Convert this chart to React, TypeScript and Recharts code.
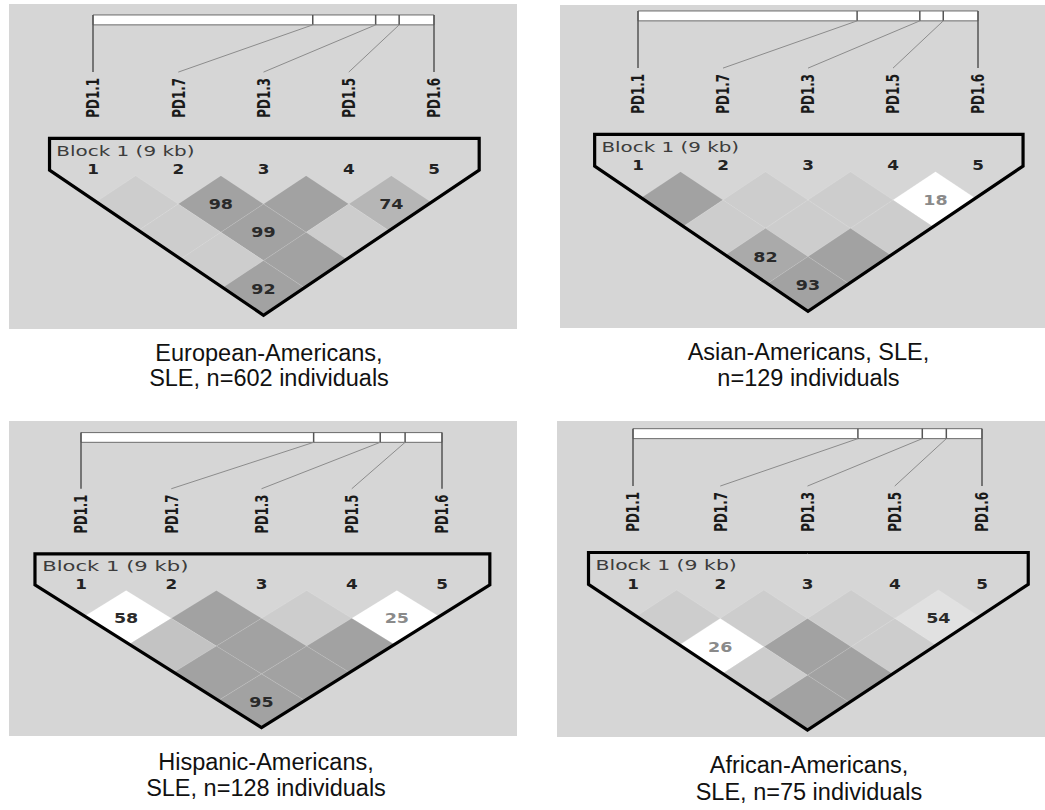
import React from 'react';
import { ScatterChart, Scatter, XAxis, YAxis, ReferenceArea, ReferenceLine } from 'recharts';

// ---------------- data ----------------
const markerNames = ['PD1.1', 'PD1.7', 'PD1.3', 'PD1.5', 'PD1.6'];
const markerPositionsKb = [0, 5.8, 7.46, 8.08, 9.0];
const blockSpanKb = 9;
const blockTitle = 'Block 1 (9 kb)';
const markerNumbers = ['1', '2', '3', '4', '5'];
const markerPairs: [number, number][] = [
  [1, 2], [2, 3], [3, 4], [4, 5],
  [1, 3], [2, 4], [3, 5],
  [1, 4], [2, 5],
  [1, 5],
];

// D' (x100) per pair (100 = not printed) and LD class per pair
const europeanDPrime = [100, 98, 100, 74, 100, 99, 100, 100, 100, 92];
const europeanLD = ['weak', 'strong', 'strong', 'mid', 'weak', 'strong', 'weak', 'weak', 'strong', 'strong'];
const asianDPrime = [100, 100, 100, 18, 100, 100, 100, 82, 100, 93];
const asianLD = ['strong', 'weak', 'weak', 'none', 'weak', 'weak', 'weak', 'high', 'strong', 'strong'];
const hispanicDPrime = [58, 100, 100, 25, 100, 100, 100, 100, 100, 95];
const hispanicLD = ['none', 'strong', 'weak', 'none', 'midLight', 'strong', 'strong', 'strong', 'strong', 'strong'];
const africanDPrime = [100, 100, 100, 54, 26, 100, 100, 100, 100, 100];
const africanLD = ['weak', 'weak', 'weak', 'faint', 'none', 'strong', 'weak', 'weak', 'strong', 'strong'];

const europeanCaption = ['European-Americans,', 'SLE, n=602 individuals'];
const asianCaption = ['Asian-Americans, SLE,', 'n=129 individuals'];
const hispanicCaption = ['Hispanic-Americans,', 'SLE, n=128 individuals'];
const africanCaption = ['African-Americans,', 'SLE, n=75 individuals'];

// ---------------- styles / layout ----------------
const ldColors: Record<string, string> = {
  strong: '#a2a2a2',
  high: '#aaaaaa',
  mid: '#b6b6b6',
  midLight: '#c3c3c3',
  weak: '#cdcdcd',
  faint: '#e1e1e1',
  none: '#ffffff',
};
const lowTextGray = '#8a8a8a';
const panelBg = '#d6d6d6';
const FONT = '"DejaVu Sans", Verdana, sans-serif';

// geometry in chart units (x: marker index, y: LD row)
const BAR_TOP = -5.68;
const BAR_BOTTOM = -5.33;
const LINE_END = -3.66;
const LABEL_BASE = -2.05;
const BLOCK_Y = -0.69;
const NUM_Y = -0.05;
const OUT_TOP = -1.32;
const OUT_SIDE = -0.2;
const OUT_LEFT = 0.49;
const OUT_RIGHT = 5.53;
const APEX_X = 3.0;
const APEX_Y = 4.93;

const panelLayouts = [
  { left: 9, top: 4, width: 508, height: 325, x1: 93, x5: 434, row0: 175.7, rowStep: 28.3, capX: 269, capTop: 341.4, capLine: 24.5 },
  { left: 560, top: 5, width: 485, height: 323, x1: 638, x5: 978, row0: 171.7, rowStep: 28.3, capX: 808.5, capTop: 338.7, capLine: 26.7 },
  { left: 9, top: 421, width: 508, height: 315, x1: 81, x5: 442, row0: 590.5, rowStep: 27.8, capX: 266, capTop: 748.7, capLine: 26.7 },
  { left: 557, top: 421, width: 488, height: 316, x1: 633, x5: 982, row0: 590, rowStep: 28.4, capX: 809, capTop: 752, capLine: 26.7 },
];

const panels = [
  { dprime: europeanDPrime, ld: europeanLD, caption: europeanCaption },
  { dprime: asianDPrime, ld: asianLD, caption: asianCaption },
  { dprime: hispanicDPrime, ld: hispanicLD, caption: hispanicCaption },
  { dprime: africanDPrime, ld: africanLD, caption: africanCaption },
];

// ---------------- helpers ----------------
type Pt = [number, number];
const kLeft = (APEX_Y - OUT_SIDE) / (APEX_X - OUT_LEFT);
const kRight = (APEX_Y - OUT_SIDE) / (OUT_RIGHT - APEX_X);
const insideLeft = (p: Pt) => OUT_SIDE + (p[0] - OUT_LEFT) * kLeft - p[1];
const insideRight = (p: Pt) => OUT_SIDE + (OUT_RIGHT - p[0]) * kRight - p[1];

function clipPoly(pts: Pt[], f: (p: Pt) => number): Pt[] {
  const out: Pt[] = [];
  for (let k = 0; k < pts.length; k++) {
    const a = pts[k];
    const b = pts[(k + 1) % pts.length];
    const fa = f(a);
    const fb = f(b);
    if (fa >= 0) out.push(a);
    if ((fa >= 0) !== (fb >= 0)) {
      const t = fa / (fa - fb);
      out.push([a[0] + t * (b[0] - a[0]), a[1] + t * (b[1] - a[1])]);
    }
  }
  return out;
}

const emptyShape = () => <g />;

function LDPanel({ layout, dprime, ld }: any) {
  const sx = (layout.x5 - layout.x1) / 4;
  const sy = layout.rowStep;
  const xMin = 1 - (layout.x1 - layout.left) / sx;
  const xMax = xMin + layout.width / sx;
  const yMin = (layout.top - layout.row0) / sy;
  const yMax = yMin + layout.height / sy;

  const cells = markerPairs.map(([i, j], k) => ({ x: (i + j) / 2, y: j - i, d: dprime[k], ld: ld[k] }));
  const outline = [
    { x: APEX_X, y: OUT_TOP },
    { x: OUT_RIGHT, y: OUT_TOP },
    { x: OUT_RIGHT, y: OUT_SIDE },
    { x: APEX_X, y: APEX_Y },
    { x: OUT_LEFT, y: OUT_SIDE },
    { x: OUT_LEFT, y: OUT_TOP },
    { x: APEX_X, y: OUT_TOP },
  ];
  const labelPts = markerNames.map((n, i) => ({ x: i + 1, y: LABEL_BASE, text: n }));
  const numberPts = markerNumbers.map((n, i) => ({ x: i + 1, y: NUM_Y, text: n }));
  const blockPts = [{ x: 0.57, y: BLOCK_Y, text: blockTitle }];
  const physX = markerPositionsKb.map((p) => 1 + (4 * p) / blockSpanKb);

  const diamondShape = (props: any) => {
    const { cx, cy, payload } = props;
    const uc = payload.x;
    const rc = payload.y;
    let poly: Pt[] = [
      [uc, rc - 1],
      [uc + 0.5, rc],
      [uc, rc + 1],
      [uc - 0.5, rc],
    ];
    poly = clipPoly(clipPoly(poly, insideLeft), insideRight);
    const pts = poly.map(([u, r]) => `${cx + (u - uc) * sx},${cy + (r - rc) * sy}`).join(' ');
    const show = payload.d < 100;
    const textFill = payload.ld === 'none' && payload.d < 30 ? lowTextGray : '#2a2a2a';
    return (
      <g>
        <polygon points={pts} fill={ldColors[payload.ld]} stroke="rgba(255,255,255,0.14)" strokeWidth={0.8} />
        {show && (
          <text
            transform={`translate(${cx},${cy + 5}) scale(1.25,1)`}
            textAnchor="middle"
            fontFamily={FONT}
            fontWeight="bold"
            fontSize={14}
            fill={textFill}
          >
            {String(payload.d)}
          </text>
        )}
      </g>
    );
  };

  const labelShape = (props: any) => (
    <text
      transform={`translate(${props.cx},${props.cy}) rotate(-90)`}
      x={0}
      y={6.3}
      fontFamily={FONT}
      fontWeight="bold"
      fontSize={17}
      fill="#1a1a1a"
      textLength={1.4 * sy}
      lengthAdjust="spacingAndGlyphs"
    >
      {props.payload.text}
    </text>
  );

  const numberShape = (props: any) => (
    <text
      transform={`translate(${props.cx},${props.cy}) scale(1.2,1)`}
      textAnchor="middle"
      fontFamily={FONT}
      fontWeight="bold"
      fontSize={14}
      fill="#222"
    >
      {props.payload.text}
    </text>
  );

  const blockShape = (props: any) => (
    <text
      x={props.cx}
      y={props.cy}
      fontFamily={FONT}
      fontSize={14}
      fill="#3c3c3c"
      textLength={1.62 * sx}
      lengthAdjust="spacingAndGlyphs"
    >
      {props.payload.text}
    </text>
  );

  return (
    <div style={{ position: 'absolute', left: layout.left, top: layout.top, width: layout.width, height: layout.height, background: panelBg }}>
      <ScatterChart width={layout.width} height={layout.height} margin={{ top: 0, right: 0, bottom: 0, left: 0 }}>
        <XAxis type="number" dataKey="x" domain={[xMin, xMax]} allowDataOverflow hide />
        <YAxis type="number" dataKey="y" domain={[yMin, yMax]} allowDataOverflow hide reversed />
        <ReferenceArea x1={1} x2={5} y1={BAR_TOP} y2={BAR_BOTTOM} fill="#ffffff" fillOpacity={1} stroke="#6b6b6b" strokeWidth={1} />
        {physX.map((u, i) =>
          i === 0 || i === markerNames.length - 1 ? (
            <ReferenceLine key={`v${i}`} segment={[{ x: u, y: BAR_TOP }, { x: i + 1, y: LINE_END }]} stroke="#555" strokeWidth={1.5} />
          ) : (
            <ReferenceLine key={`d${i}`} segment={[{ x: u, y: BAR_TOP }, { x: u, y: BAR_BOTTOM }]} stroke="#555" strokeWidth={1.5} />
          )
        )}
        {physX.map((u, i) =>
          i === 0 || i === markerNames.length - 1 ? null : (
            <ReferenceLine key={`c${i}`} segment={[{ x: u, y: BAR_BOTTOM }, { x: i + 1, y: LINE_END }]} stroke="#8c8c8c" strokeWidth={1} />
          )
        )}
        <Scatter data={cells} shape={diamondShape} isAnimationActive={false} />
        <Scatter
          data={outline}
          shape={emptyShape}
          fill="none"
          line={{ stroke: '#000', strokeWidth: 3.2, fill: 'none', strokeLinejoin: 'miter' }}
          isAnimationActive={false}
        />
        <Scatter data={labelPts} shape={labelShape} isAnimationActive={false} />
        <Scatter data={numberPts} shape={numberShape} isAnimationActive={false} />
        <Scatter data={blockPts} shape={blockShape} isAnimationActive={false} />
      </ScatterChart>
    </div>
  );
}

function Caption({ layout, lines }: any) {
  return (
    <div
      style={{
        position: 'absolute',
        left: layout.capX - 200,
        top: layout.capTop,
        width: 400,
        textAlign: 'center',
        fontFamily: '"Liberation Sans", Arial, sans-serif',
        fontSize: 23.5,
        lineHeight: `${layout.capLine}px`,
        color: '#111',
      }}
    >
      {lines.map((l: string, i: number) => (
        <div key={i}>{l}</div>
      ))}
    </div>
  );
}

export default function App() {
  return (
    <div style={{ position: 'absolute', left: 0, top: 0, width: 1045, height: 810, background: '#fff', overflow: 'hidden' }}>
      {panels.map((p, i) => (
        <React.Fragment key={i}>
          <LDPanel layout={panelLayouts[i]} dprime={p.dprime} ld={p.ld} />
          <Caption layout={panelLayouts[i]} lines={p.caption} />
        </React.Fragment>
      ))}
    </div>
  );
}
